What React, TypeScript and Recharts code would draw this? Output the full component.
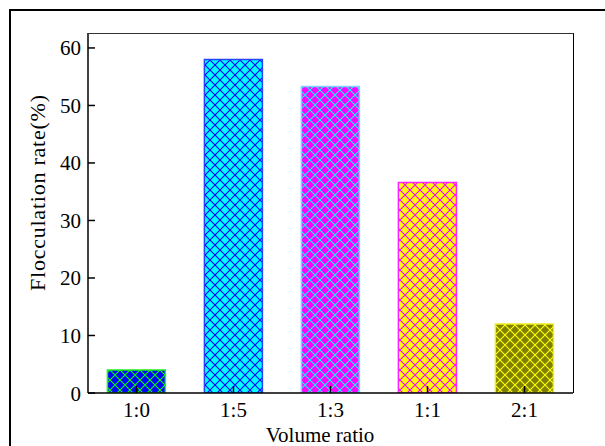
import React from 'react';
import { BarChart, Bar, XAxis, YAxis, Cell } from 'recharts';

const categories = ['1:0', '1:5', '1:3', '1:1', '2:1'];
const values = [4.0, 58.0, 53.3, 36.6, 12.0];
const fillColors = ['#0000FF', '#00FFFF', '#FF00FF', '#FFFF00', '#808000'];
const hatchColors = ['#00FF00', '#0000FF', '#00FFFF', '#FF00FF', '#FFFF00'];
const strokeColors = ['#22EE22', '#2244FF', '#7FCFFF', '#FF22FF', '#EEEE22'];
const yTicks = [0, 10, 20, 30, 40, 50, 60];

const data = categories.map((c, i) => ({ name: c, value: values[i] }));

const FONT = '"Liberation Serif", "Times New Roman", serif';

const XTick = (props: any) => {
  const { x, y, payload } = props;
  return (
    <text
      x={x}
      y={y}
      dy={15}
      textAnchor="middle"
      fontSize={21}
      fontFamily={FONT}
      fill="#000"
    >
      {payload.value}
    </text>
  );
};

const YTick = (props: any) => {
  const { x, y, payload } = props;
  return (
    <text
      x={x}
      y={y}
      dy={7.5}
      textAnchor="end"
      fontSize={21}
      fontFamily={FONT}
      fill="#000"
    >
      {payload.value}
    </text>
  );
};

export default function App() {
  return (
    <div
      style={{
        position: 'fixed',
        left: 0,
        top: 0,
        width: 605,
        height: 446,
        overflow: 'hidden',
        background: '#fff',
        fontFamily: FONT,
      }}
    >
      <svg width={0} height={0} style={{ position: 'absolute' }}>
        <defs>
          {fillColors.map((f, i) => (
            <pattern
              key={i}
              id={`hatch${i}`}
              patternUnits="userSpaceOnUse"
              width={10}
              height={10}
            >
              <rect x={0} y={0} width={10} height={10} fill={f} />
              <path
                d="M0,0 L10,10 M10,0 L0,10"
                stroke={hatchColors[i]}
                strokeWidth={1.1}
                fill="none"
              />
            </pattern>
          ))}
        </defs>
      </svg>
      <div
        style={{
          position: 'absolute',
          left: 9,
          top: 8.5,
          width: 640,
          height: 480,
          border: '2.2px solid #000',
          boxSizing: 'border-box',
        }}
      />
      <div style={{ position: 'absolute', left: 0, top: 0 }}>
        <BarChart
          width={605}
          height={446}
          data={data}
          margin={{ top: 33, right: 32, bottom: 23, left: 28 }}
          barCategoryGap="20%"
          style={{ fontFamily: FONT }}
        >
          <XAxis
            dataKey="name"
            height={30}
            axisLine={{ stroke: '#000', strokeWidth: 1.5 }}
            tickLine={{ stroke: '#000', strokeWidth: 1.5 }}
            tickSize={-7}
            tickMargin={16}
            tick={<XTick />}
            label={{
              content: () => (
                <text
                  x={320}
                  y={442}
                  textAnchor="middle"
                  fontSize={21}
                  fontFamily={FONT}
                  fill="#000"
                >
                  Volume ratio
                </text>
              ),
            }}
          />
          <YAxis
            width={60}
            domain={[0, 62.6]}
            ticks={yTicks}
            allowDataOverflow
            axisLine={{ stroke: '#000', strokeWidth: 1.5 }}
            tickLine={{ stroke: '#000', strokeWidth: 1.5 }}
            tickSize={-7}
            tickMargin={14}
            tick={<YTick />}
            label={{
              content: () => (
                <text
                  x={45}
                  y={193}
                  transform="rotate(-90, 45, 193)"
                  textAnchor="middle"
                  fontSize={22}
                  fontFamily={FONT}
                  fill="#000"
                  textLength={196}
                  lengthAdjust="spacing"
                >
                  Flocculation rate(%)
                </text>
              ),
            }}
          />
          <Bar dataKey="value" isAnimationActive={false} strokeWidth={1.5}>
            {data.map((d, i) => (
              <Cell key={d.name} fill={`url(#hatch${i})`} stroke={strokeColors[i]} />
            ))}
          </Bar>
        </BarChart>
      </div>
      <div
        style={{
          position: 'absolute',
          left: 88,
          top: 33,
          width: 485.5,
          height: 360,
          borderTop: '1.5px solid #333',
          borderRight: '1.5px solid #000',
          boxSizing: 'border-box',
          pointerEvents: 'none',
        }}
      />
    </div>
  );
}
